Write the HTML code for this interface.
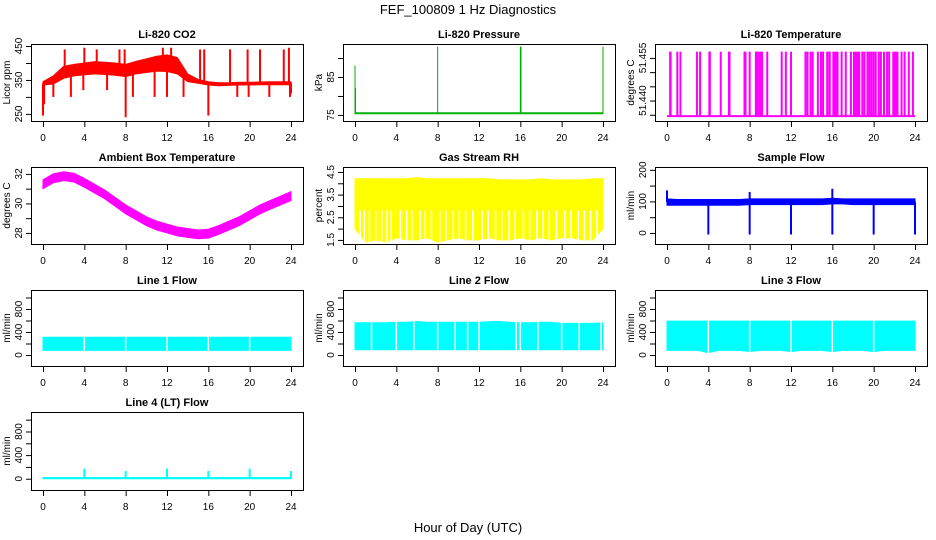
<!DOCTYPE html>
<html><head><meta charset="utf-8">
<style>
html,body{margin:0;padding:0;background:#fff;}
svg{display:block;font-family:"Liberation Sans",sans-serif;}
</style></head>
<body>
<svg id="chart" width="936" height="540" viewBox="0 0 936 540" xmlns="http://www.w3.org/2000/svg">
<text x="468" y="14" text-anchor="middle" font-size="13">FEF_100809  1 Hz Diagnostics</text>
<text x="468" y="532" text-anchor="middle" font-size="13">Hour of Day (UTC)</text>
</svg>
<script>
// ---- data ----
const hours = [0,1,2,3,4,5,6,7,8,9,10,11,12,13,14,15,16,17,18,19,20,21,22,23,24];
const xTicks = [0,4,8,12,16,20,24];

const co2Low  = [335,338,355,362,365,368,366,364,360,368,372,376,375,368,345,340,335,333,334,335,335,336,336,336,336];
const co2High = [345,362,390,396,400,404,402,400,396,405,412,420,424,416,368,352,345,342,342,343,343,344,345,345,345];
const co2Spikes = [[0,245],[0.1,278],[1,300],[2.1,440],[2.7,300],[3.9,320],[4,445],[5.2,440],[6.2,320],[7.4,440],[7.9,440],[8,240],[8.7,300],[10.8,300],[11.6,445],[12,300],[12.4,445],[13.6,300],[15.2,440],[15.6,440],[16,245],[18.1,440],[18.8,300],[19.8,440],[19.9,300],[21,440],[21.9,300],[23.3,440],[23.8,445],[23.9,300],[24,310]];

const presLow  = [75.3,75.3,75.3,75.3,75.3,75.3,75.3,75.3,75.3,75.3,75.3,75.3,75.3,75.3,75.3,75.3,75.3,75.3,75.3,75.3,75.3,75.3,75.3,75.3,75.3];
const presHigh = [75.6,75.6,75.6,75.6,75.6,75.6,75.6,75.6,75.6,75.6,75.6,75.6,75.6,75.6,75.6,75.6,75.6,75.6,75.6,75.6,75.6,75.6,75.6,75.6,75.6];
const presSpikes = [[0,88],[0.05,82],[8,93],[16,93],[16.03,93],[16.06,93],[24,93]];

const tempBase = 51.4345;
const tempSpikeTop = 51.4572;
const tempSpikeHours = [0.3,0.35,1.0,1.3,2.9,3.2,4.1,4.15,5.2,6.0,6.05,7.5,7.6,8.0,8.6,8.7,8.8,9.0,9.2,9.7,11.1,11.5,12.0,13.4,13.6,13.9,14.1,14.6,14.9,15.1,15.5,15.7,15.75,16.9,17.3,17.8,18.9,19.1,19.4,19.6,19.8,20.0,20.2,20.5,20.7,21.0,21.3,21.5,22.7,23.0,23.4,23.8];
const tempDense = [[16.0,16.6],[18.0,18.7],[21.8,22.4]];

const ambLow  = [31.0,31.4,31.55,31.45,31.1,30.7,30.3,29.8,29.3,28.9,28.5,28.2,28.0,27.8,27.7,27.6,27.65,27.9,28.2,28.5,28.9,29.3,29.6,29.9,30.2];
const ambHigh = [31.6,32.0,32.15,32.05,31.7,31.3,30.9,30.4,29.9,29.5,29.1,28.8,28.6,28.4,28.3,28.2,28.25,28.5,28.8,29.1,29.5,29.9,30.2,30.5,30.8];

const rhLow  = [2.0,1.4,1.5,1.4,1.6,1.5,1.5,1.6,1.4,1.5,1.6,1.5,1.5,1.6,1.5,1.5,1.6,1.5,1.6,1.5,1.6,1.6,1.5,1.5,2.0];
const rhHigh = [4.2,4.2,4.2,4.2,4.2,4.2,4.25,4.2,4.2,4.2,4.2,4.2,4.2,4.2,4.15,4.15,4.15,4.15,4.2,4.15,4.15,4.15,4.15,4.2,4.2];
const rhGaps = [0.5,0.9,1.4,2.0,2.6,3.1,3.5,4.4,5.0,5.5,6.3,6.8,7.4,8.2,8.8,9.5,10.1,10.7,11.4,12.3,12.9,13.6,14.2,14.9,15.5,16.3,16.9,17.6,18.2,18.8,19.5,20.3,20.9,21.6,22.2,22.8,23.4];

const sfLow  = [88,88,88,88,88,88,88,88,90,90,90,90,90,90,90,90,92,92,90,90,90,90,90,90,90];
const sfHigh = [108,106,106,106,106,106,106,106,108,108,108,108,108,108,108,108,110,108,108,108,108,108,108,108,108];
const sfSpikes = [[0,135],[4,-5],[8,130],[8,-5],[12,-5],[16,140],[16,-5],[20,-5],[24,-5]];

const l1Low  = [80,80,80,80,80,80,80,80,80,80,80,80,80,80,80,80,80,80,80,80,80,80,80,80,80];
const l1High = [310,310,310,310,310,310,310,310,310,310,310,310,310,310,310,310,310,310,310,310,310,310,310,310,310];
const l1Gaps = [4,8,12,16,20];
const l2Low  = [90,90,90,90,90,90,90,90,90,90,90,90,90,90,90,90,90,90,90,90,90,90,90,90,90];
const l2High = [560,560,560,560,570,570,580,570,570,570,570,570,570,580,580,570,560,560,570,570,550,550,550,550,560];
const l2Gaps = [1.6,4,5.7,8,9.7,10.9,12,15.6,16,17.7,20,21.7,23.8];
const l3Low  = [80,80,80,80,40,80,80,80,60,80,80,80,60,80,80,80,60,80,80,80,60,80,80,80,80];
const l3High = [590,590,590,590,590,590,590,590,590,590,590,590,590,590,590,590,590,590,590,590,590,590,590,590,590];
const l3Gaps = [4,8,12,16,20];
const l4Low  = [0,0,0,0,0,0,0,0,0,0,0,0,0,0,0,0,0,0,0,0,0,0,0,0,0];
const l4High = [20,20,20,20,20,20,20,20,20,20,20,20,20,20,20,20,20,20,20,20,20,20,20,20,20];
const l4Spikes = [[4,170],[8,130],[12,170],[16,130],[20,170],[24,130]];

// ---- rendering ----
const NS = "http://www.w3.org/2000/svg";
const svg = document.getElementById("chart");
function mk(tag, attrs, parent){
  const e = document.createElementNS(NS, tag);
  for (const k in attrs) e.setAttribute(k, attrs[k]);
  (parent||svg).appendChild(e);
  return e;
}
const rowT = [44,167,290,412], rowB = [121,244,366,490];

function panel(c, r, cfg){
  const g = mk("g", {});
  
  
  const L = 31 + 312*c, R = 303 + 312*c, T = rowT[r], B = rowB[r];
  const x0 = 43 + 312*c, x24 = 291 + 312*c;
  const X = h => x0 + h/24*(x24-x0);
  const [dMin, dMax] = cfg.domain;
  const Y = v => B - (v - dMin)/(dMax - dMin)*(B - T);
  const clip = "clip" + c + r;
  const cp = mk("clipPath", {id: clip}, g);
  mk("rect", {x: L, y: T, width: R-L, height: B-T}, cp);
  const data = mk("g", {"clip-path": "url(#" + clip + ")"}, g);
  
  
  const col = cfg.color;
  if (cfg.low){
    let pts = [];
    for (let i=0;i<hours.length;i++) pts.push(X(hours[i]).toFixed(1)+","+Y(cfg.high[i]).toFixed(1));
    for (let i=hours.length-1;i>=0;i--) pts.push(X(hours[i]).toFixed(1)+","+Y(cfg.low[i]).toFixed(1));
    const band = mk("polygon", {points: pts.join(" "), fill: col, stroke: col, "stroke-width": 1}, data);
    
    
  }
  const mid = h => {
    const i = Math.min(23, Math.floor(h));
    const f = h - i;
    const lo = cfg.low[i]*(1-f) + cfg.low[i+1]*f, hi = cfg.high[i]*(1-f) + cfg.high[i+1]*f;
    return (lo+hi)/2;
  };
  (cfg.gaps||[]).forEach(h => {
    const top = cfg.gapTop !== undefined ? cfg.gapTop : dMax;
    const ln = mk("line", {x1: X(h), x2: X(h), y1: Y(top), y2: Y(dMin), stroke: "#fff", "stroke-width": 1.5}, data);
    
    
  });
  (cfg.spikes||[]).forEach(s => {
    const base = cfg.base !== undefined ? cfg.base : mid(s[0]);
    const ln = mk("line", {x1: X(s[0]), x2: X(s[0]), y1: Y(base), y2: Y(s[1]), stroke: col, "stroke-width": cfg.sw||2}, data);
    
    
  });
  (cfg.dense||[]).forEach(d => {
    const rc = mk("rect", {x: X(d[0]), y: Y(cfg.spikeTop), width: X(d[1])-X(d[0]), height: Y(cfg.base)-Y(cfg.spikeTop), fill: col}, data);
    
    
  });
  if (cfg.baseLine){
    const ln = mk("line", {x1: X(0), x2: X(24), y1: Y(cfg.base), y2: Y(cfg.base), stroke: col, "stroke-width": 2}, data);
    
    
  }
  const box = mk("rect", {x: L+0.5, y: T+0.5, width: R-L, height: B-T, fill: "none", stroke: "#000", "stroke-width": 1}, g);
  
  
  const t = mk("text", {x: (L+R)/2, y: T-6, "text-anchor": "middle", "font-size": 11, "font-weight": "bold"}, g);
  t.textContent = cfg.title;
  
  
  xTicks.forEach(h => {
    mk("line", {x1: X(h)+0.5, x2: X(h)+0.5, y1: B+1, y2: B+6, stroke: "#000"}, g);
    const tl = mk("text", {x: X(h), y: B+20, "text-anchor": "middle", "font-size": 10}, g);
    tl.textContent = h;
    
    
  });
  cfg.yTicks.forEach(v => {
    mk("line", {x1: L-5, x2: L, y1: Y(v)+0.5, y2: Y(v)+0.5, stroke: "#000"}, g);
  });
  cfg.yLabels.forEach(v => {
    const yy = Y(parseFloat(v)), xx = L-9;
    const tl = mk("text", {x: xx, y: yy, "text-anchor": "middle", "font-size": 10, transform: "rotate(-90 " + xx + " " + yy + ")"}, g);
    tl.textContent = v;
    
    
  });
  const yx = L-21, yy = (T+B)/2;
  const yl = mk("text", {x: yx, y: yy, "text-anchor": "middle", "font-size": 10, transform: "rotate(-90 " + yx + " " + yy + ")"}, g);
  yl.textContent = cfg.ylab;
  
  
}

panel(0,0,{name:"co2",title:"Li-820 CO2",ylab:"Licor ppm",color:"#ff0000",domain:[229,456],yTicks:[250,300,350,400,450],yLabels:["250","350","450"],low:co2Low,high:co2High,spikes:co2Spikes});
panel(1,0,{name:"pressure",title:"Li-820 Pressure",ylab:"kPa",color:"#00b000",domain:[73.4,93.7],yTicks:[75,80,85,90],yLabels:["75","85"],low:presLow,high:presHigh,spikes:presSpikes,sw:1});
panel(2,0,{name:"li820-temp",title:"Li-820 Temperature",ylab:"degrees C",color:"#ff00ff",domain:[51.4328,51.4599],yTicks:[51.435,51.440,51.445,51.450,51.455],yLabels:["51.440","51.455"],base:tempBase,spikeTop:tempSpikeTop,baseLine:true,spikes:tempSpikeHours.map(h=>[h,tempSpikeTop]),dense:tempDense});
panel(0,1,{name:"ambient-temp",title:"Ambient Box Temperature",ylab:"degrees C",color:"#ff00ff",domain:[27.25,32.47],yTicks:[28,29,30,31,32],yLabels:["28","30","32"],low:ambLow,high:ambHigh});
panel(1,1,{name:"gas-rh",title:"Gas Stream RH",ylab:"percent",color:"#ffff00",domain:[1.32,4.72],yTicks:[1.5,2,2.5,3,3.5,4,4.5],yLabels:["1.5","2.5","3.5","4.5"],low:rhLow,high:rhHigh,gaps:rhGaps,gapTop:2.8});
panel(2,1,{name:"sample-flow",title:"Sample Flow",ylab:"ml/min",color:"#0000ff",domain:[-35,209],yTicks:[0,50,100,150,200],yLabels:["0","100","200"],low:sfLow,high:sfHigh,spikes:sfSpikes});
panel(0,2,{name:"line1-flow",title:"Line 1 Flow",ylab:"ml/min",color:"#00ffff",domain:[-191,1130],yTicks:[0,200,400,600,800,1000],yLabels:["0","400","800"],low:l1Low,high:l1High,gaps:l1Gaps});
panel(1,2,{name:"line2-flow",title:"Line 2 Flow",ylab:"ml/min",color:"#00ffff",domain:[-191,1130],yTicks:[0,200,400,600,800,1000],yLabels:["0","400","800"],low:l2Low,high:l2High,gaps:l2Gaps});
panel(2,2,{name:"line3-flow",title:"Line 3 Flow",ylab:"ml/min",color:"#00ffff",domain:[-191,1130],yTicks:[0,200,400,600,800,1000],yLabels:["0","400","800"],low:l3Low,high:l3High,gaps:l3Gaps});
panel(0,3,{name:"line4-flow",title:"Line 4 (LT) Flow",ylab:"ml/min",color:"#00ffff",domain:[-191,1130],yTicks:[0,200,400,600,800,1000],yLabels:["0","400","800"],low:l4Low,high:l4High,spikes:l4Spikes});
</script>
</body></html>
